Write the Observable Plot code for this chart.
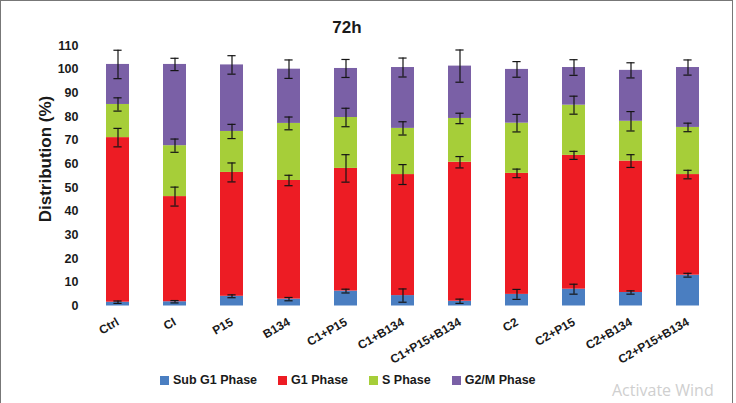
<!DOCTYPE html>
<html>
<head>
<meta charset="utf-8">
<script src="https://cdn.jsdelivr.net/npm/d3@7"></script>
<script src="https://cdn.jsdelivr.net/npm/@observablehq/plot@0.6"></script>
<style>
  html, body { margin: 0; padding: 0; background: #fff; }
  body {
    width: 736px; height: 403px; overflow: hidden; position: relative;
    font-family: "Liberation Sans", Arial, sans-serif; color: #1a1a1a;
  }
  #frame {
    position: absolute; left: 0; top: 0; width: 733px; height: 430px;
    border: 1.5px solid #777; border-bottom: none; box-sizing: border-box;
  }
  #chart { position: absolute; left: 0; top: 0; }
  #title {
    position: absolute; left: 0; top: 18.5px; width: 694px; text-align: center;
    font-weight: bold; font-size: 17px; line-height: 1;
  }
  #ylabel {
    position: absolute; left: 45px; top: 158.5px; white-space: nowrap;
    transform: translate(-50%, -50%) rotate(-90deg);
    font-weight: bold; font-size: 17px; line-height: 1;
  }
  #legend {
    position: absolute; left: 160px; top: 373px; display: flex; gap: 21px;
    font-weight: bold; font-size: 12.5px; line-height: 14px;
  }
  #legend .item { display: flex; align-items: center; }
  #legend .sw { width: 9px; height: 9px; margin-right: 4px; }
  #watermark {
    position: absolute; left: 612px; top: 382px; white-space: nowrap;
    font-family: "Open Sans", "DejaVu Sans", sans-serif; font-size: 16px;
    line-height: 17px; color: #cfcfcf;
  }
</style>
</head>
<body>
<div id="frame"></div>
<div id="chart"></div>
<div id="title">72h</div>
<div id="ylabel">Distribution (%)</div>
<div id="legend"></div>
<div id="watermark">Activate Wind</div>
<script>
// Cell-cycle distribution after 72h, mean % per phase with error bars
const groups = ["Ctrl", "CI", "P15", "B134", "C1+P15", "C1+B134", "C1+P15+B134", "C2", "C2+P15", "C2+B134", "C2+P15+B134"];
const phases = ["Sub G1 Phase", "G1 Phase", "S Phase", "G2/M Phase"];
const phaseColors = ["#4a7ec1", "#ed1c24", "#a6ce39", "#7a60a6"];
const yTicks = [0, 10, 20, 30, 40, 50, 60, 70, 80, 90, 100, 110];

// Phase percentages per treatment
const subG1 = [1.6, 1.8, 4.1, 2.9, 6.3, 4.4, 2.0, 4.9, 7.1, 5.7, 13.0];
const g1    = [69.5, 44.4, 52.3, 50.1, 51.8, 51.1, 58.7, 51.1, 56.5, 55.5, 42.5];
const sPh   = [14.0, 21.5, 17.3, 24.1, 21.5, 19.5, 18.5, 21.2, 21.2, 16.8, 19.9];
const g2m   = [16.9, 34.3, 28.1, 22.9, 20.7, 25.7, 22.1, 22.7, 15.9, 21.5, 25.3];

// Error (±) for each phase
const subG1Err = [0.5, 0.5, 0.6, 0.7, 0.8, 2.8, 0.9, 2.1, 2.1, 0.7, 0.8];
const g1Err    = [3.9, 4.0, 4.0, 2.2, 5.8, 4.2, 2.4, 1.8, 1.7, 2.7, 1.8];
const sPhErr   = [2.8, 2.8, 3.0, 2.7, 3.9, 2.8, 2.2, 3.7, 3.8, 4.1, 1.8];
const g2mErr   = [6.0, 2.6, 3.9, 3.9, 3.8, 4.0, 6.8, 3.3, 3.3, 3.2, 3.2];

const series = [subG1, g1, sPh, g2m];
const errors = [subG1Err, g1Err, sPhErr, g2mErr];

// Tidy rows, bottom phase first; "top" is the cumulative height where the error bar sits
const rows = [];
const running = groups.map(() => 0);
phases.forEach((phase, i) => {
  groups.forEach((group, j) => {
    running[j] += series[i][j];
    rows.push({group, phase, value: series[i][j], err: errors[i][j], top: running[j]});
  });
});

const capInset = 7.4;
const chart = Plot.plot({
  width: 736,
  height: 370,
  marginTop: 45,
  marginBottom: 64.5,
  marginLeft: 71.4,
  marginRight: 3.4,
  style: {fontFamily: "'Liberation Sans', Arial, sans-serif", background: "transparent", color: "#1a1a1a"},
  x: {domain: groups, padding: 0.6, label: null},
  y: {domain: [0, 110], label: null},
  color: {domain: phases, range: phaseColors},
  marks: [
    Plot.barY(rows, {x: "group", y: "value", fill: "phase"}),
    Plot.ruleX(rows, {x: "group", y1: d => d.top - d.err, y2: d => d.top + d.err, stroke: "#151515", strokeWidth: 1.2}),
    Plot.tickY(rows, {x: "group", y: d => d.top + d.err, stroke: "#151515", strokeWidth: 1.2, insetLeft: capInset, insetRight: capInset}),
    Plot.tickY(rows, {x: "group", y: d => d.top - d.err, stroke: "#151515", strokeWidth: 1.2, insetLeft: capInset, insetRight: capInset}),
    Plot.axisY({ticks: yTicks, tickSize: 0, tickPadding: 0, dx: 6.6, fontSize: 12.5, fontWeight: "bold", label: null}),
    Plot.axisX({tickRotate: -30, tickSize: 0, tickPadding: 15, fontSize: 12, fontWeight: "bold", label: null})
  ]
});
document.getElementById("chart").appendChild(chart);

// Legend
const legend = document.getElementById("legend");
phases.forEach((p, i) => {
  const item = document.createElement("div");
  item.className = "item";
  const sw = document.createElement("span");
  sw.className = "sw";
  sw.style.background = phaseColors[i];
  const label = document.createElement("span");
  label.textContent = p;
  item.appendChild(sw);
  item.appendChild(label);
  legend.appendChild(item);
});
</script>
</body>
</html>
